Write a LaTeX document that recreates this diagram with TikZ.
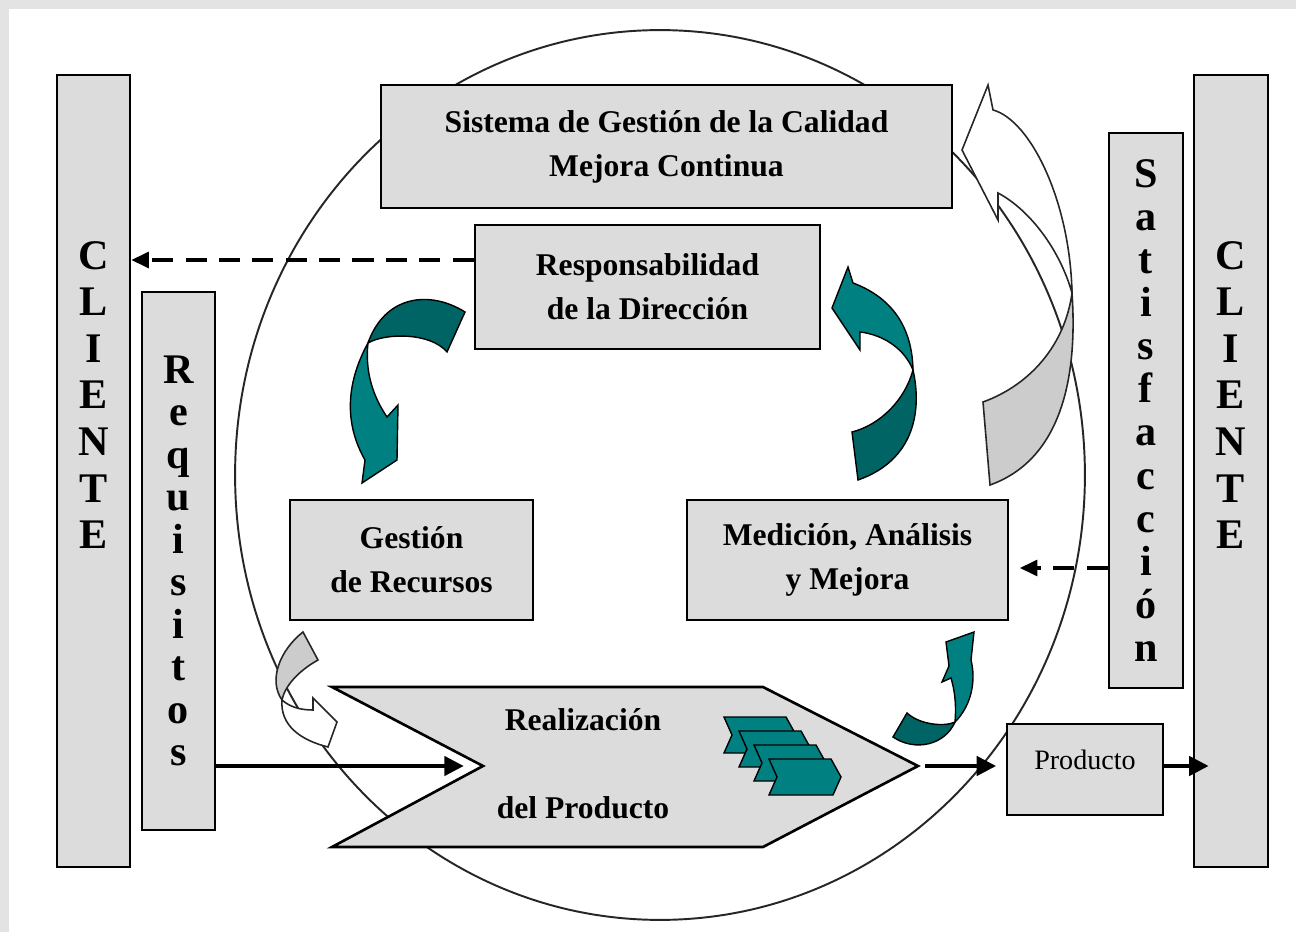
\documentclass[tikz,border=0pt]{standalone}
\usepackage{fontspec}
\setmainfont{Liberation Serif}
\usetikzlibrary{arrows.meta,positioning}
\definecolor{boxgray}{HTML}{DCDCDC}
\definecolor{tealA}{HTML}{008080}
\definecolor{tealB}{HTML}{006464}
\definecolor{hollowgray}{HTML}{CCCCCC}

\begin{document}
\begin{tikzpicture}[x=0.02cm,y=-0.02cm,>={Triangle[length=11pt,width=11pt]},semithick]
\tikzstyle{box}=[draw=black,line width=1.5pt,fill=boxgray,inner sep=0pt,align=center,font=\bfseries\fontsize{18}{25}\selectfont]
\tikzstyle{letters}=[align=center,font=\bfseries\fontsize{24}{26.5}\selectfont]
\tikzstyle{flow}=[->,line width=2pt]
\tikzstyle{dasharrow}=[-{Triangle[length=10pt,width=9pt]},line width=2pt,dash pattern=on 12pt off 7pt]
\tikzstyle{tealpart}=[draw=black,line width=0.8pt,fill=tealA]
\tikzstyle{darkpart}=[draw=black,line width=0.8pt,fill=tealB]
\tikzstyle{hollow}=[draw=black!85,line width=0.9pt,fill=white]
\useasboundingbox (0,0) rectangle (1296,932);
\fill[gray!22] (0,0) rectangle (1296,932);
\fill[white] (9,9) rectangle (1296,932);

% big circle
\draw[line width=1.1pt,black!85] (660,475) ellipse [x radius=8.5cm,y radius=8.9cm];

% realizacion del producto
\coordinate (notch) at (483,766);
\coordinate (point) at (918,766);
\draw[line width=1.5pt,fill=boxgray] (332,687) -- (763,687) -- (point) -- (763,847) -- (332,847) -- (notch) -- cycle;
\node[align=center,font=\bfseries\fontsize{18}{50}\selectfont] (realiz) at (583,764) {Realización\\del Producto};

% boxes
\node[box,minimum width=1.46cm,minimum height=15.84cm] (clienteL) at (93.5,471) {};
\node[letters] (clienteLtxt) at ([yshift=1.52cm]clienteL.center) {C\\L\\I\\E\\N\\T\\E};
\node[box,minimum width=1.46cm,minimum height=10.76cm,font=\bfseries\fontsize{24}{24.2}\selectfont] (requisitos) at (178.5,561) {R\\e\\q\\u\\i\\s\\i\\t\\o\\s};
\node[box,minimum width=11.42cm,minimum height=2.46cm] (sistema) at (666.5,146.5) {Sistema de Gestión de la Calidad\\Mejora Continua};
\node[box,minimum width=6.9cm,minimum height=2.48cm] (resp) at (647.5,287) {Responsabilidad\\de la Dirección};
\node[box,minimum width=4.86cm,minimum height=2.4cm] (gestion) at (411.5,560) {Gestión\\de Recursos};
\node[box,minimum width=6.42cm,minimum height=2.4cm] (medicion) at (847.5,560) {Medición, Análisis\\y Mejora};
\node[box,minimum width=1.48cm,minimum height=11.1cm,font=\bfseries\fontsize{24}{24.5}\selectfont] (satisf) at (1146,410.5) {S\\a\\t\\i\\s\\f\\a\\c\\c\\i\\ó\\n};
\node[box,minimum width=1.48cm,minimum height=15.84cm] (clienteR) at (1231,471) {};
\node[letters] (clienteRtxt) at ([yshift=1.52cm]clienteR.center) {C\\L\\I\\E\\N\\T\\E};
\node[box,minimum width=3.12cm,minimum height=1.82cm,font=\fontsize{16}{19}\selectfont,text depth=11pt] (producto) at (1085,769.5) {Producto};

% flow arrows
\draw[flow,shorten >=11pt] (requisitos.east |- notch) -- (notch);
\draw[flow,shorten >=5.5pt] ([xshift=4pt]point) -- (point -| producto.west);
\draw[flow,shorten >=-9pt] (point -| producto.east) -- (point -| clienteR.west);
\coordinate (respdash) at ([yshift=0.54cm]resp.west);
\coordinate (meddash) at ([yshift=-0.16cm]medicion.east);
\draw[dasharrow] (respdash) -- (respdash -| clienteL.east);
\draw[dasharrow,shorten >=6pt] (meddash -| satisf.west) -- (meddash);

% stacked arrows
\draw[tealpart,shift={(724,717)}] (0,0) -- (62,0) -- (72,18) -- (64,36) -- (0,36) -- (8,18) -- cycle;
\draw[tealpart,shift={(739,731)}] (0,0) -- (62,0) -- (72,18) -- (64,36) -- (0,36) -- (8,18) -- cycle;
\draw[tealpart,shift={(754,745)}] (0,0) -- (62,0) -- (72,18) -- (64,36) -- (0,36) -- (8,18) -- cycle;
\draw[tealpart,shift={(769,759)}] (0,0) -- (62,0) -- (72,18) -- (64,36) -- (0,36) -- (8,18) -- cycle;

% teal curved arrows
\draw[darkpart] (465,312) .. controls (430,290) and (385,295) .. (368,343) .. controls (385,333) and (430,332) .. (447,352) -- cycle;
\draw[tealpart] (368,343) .. controls (345,385) and (345,425) .. (365,460) -- (362,483) -- (397,460) -- (398,405) -- (387,417) .. controls (372,395) and (365,370) .. (368,343) -- cycle;
\draw[tealpart] (913,370) .. controls (912,320) and (885,295) .. (853,283) -- (848,267) -- (832,308) -- (860,350) -- (860,332) .. controls (885,335) and (905,350) .. (913,370) -- cycle;
\draw[darkpart] (913,370) .. controls (922,410) and (915,460) .. (858,480) -- (852,432) .. controls (880,425) and (905,400) .. (913,370) -- cycle;
\draw[tealpart] (955,722) .. controls (972,705) and (976,680) .. (971,660) -- (974,632) -- (946,642) -- (949,666) -- (942,682) -- (951,678) .. controls (956,695) and (956,710) .. (955,722) -- cycle;
\draw[darkpart] (955,722) .. controls (945,745) and (915,752) .. (893,737) -- (907,713) .. controls (920,725) and (945,727) .. (955,722) -- cycle;

% hollow arrows
\draw[hollow] (1072,293) .. controls (1070,200) and (1030,120) .. (993,110) -- (988,85) -- (962,150) -- (998,220) -- (998,193) .. controls (1030,210) and (1060,250) .. (1072,293) -- cycle;
\draw[hollow,fill=hollowgray] (1072,293) .. controls (1078,380) and (1060,460) .. (990,485) -- (983,402) .. controls (1030,385) and (1065,345) .. (1072,293) -- cycle;
\draw[hollow,fill=hollowgray] (303,632) .. controls (280,650) and (268,680) .. (282,700) .. controls (285,685) and (300,670) .. (318,660) -- cycle;
\draw[hollow] (282,700) .. controls (280,725) and (300,740) .. (328,747) -- (337,722) -- (313,698) -- (313,710) .. controls (300,710) and (290,707) .. (282,700) -- cycle;
\end{tikzpicture}
\end{document}
